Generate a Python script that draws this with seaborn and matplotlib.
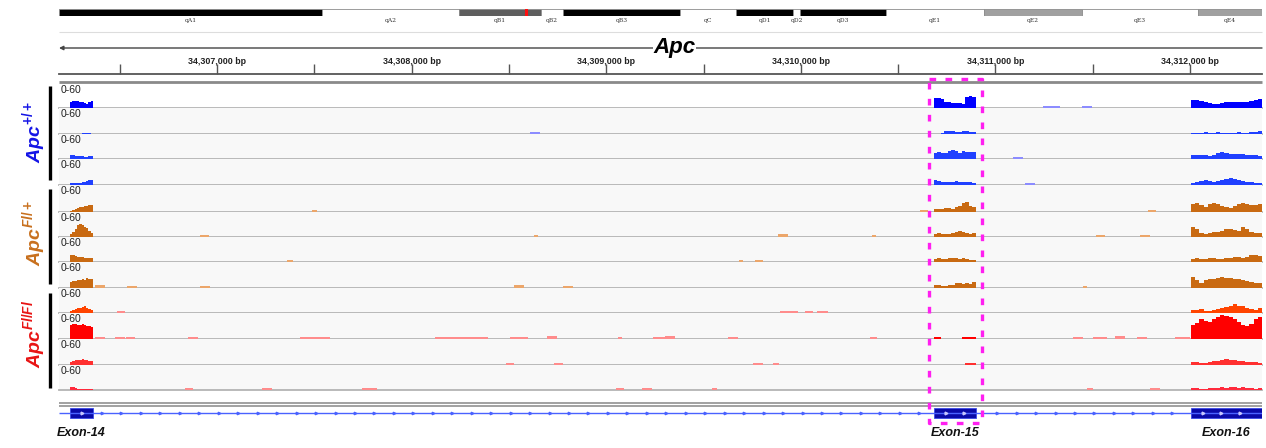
import numpy as np
import matplotlib.pyplot as plt
import seaborn as sns

sns.set_theme(style='white')
plt.rcParams['font.family'] = ['Liberation Sans', 'DejaVu Sans']
plt.rcParams['mathtext.fontset'] = 'custom'
plt.rcParams['mathtext.it'] = 'Liberation Sans:italic:bold'
plt.rcParams['mathtext.rm'] = 'Liberation Sans:bold'
plt.rcParams['mathtext.bf'] = 'Liberation Sans:bold'

# view window (chr18, bp)
XMIN, XMAX = 34306188, 34312370
major_ticks = [34307000, 34308000, 34309000, 34310000, 34311000, 34312000]
minor_ticks = [34306500, 34307500, 34308500, 34309500, 34310500, 34311500]
gene_label_pos = 34309350

# cytoband ideogram (fraction of the displayed chromosome)
band_names = ['qA1', 'qA2', 'qB1', 'qB2', 'qB3', 'qC', 'qD1', 'qD2', 'qD3',
              'qE1', 'qE2', 'qE3', 'qE4']
band_edges = [0, .2186, .3325, .4007, .4190, .5162, .5628, .6102, .6160,
              .6874, .7689, .8504, .9468, 1.0]
band_stain = ['#000000', '#ffffff', '#5e5e5e', '#ffffff', '#000000', '#ffffff',
              '#000000', '#ffffff', '#000000', '#ffffff', '#a0a0a0', '#ffffff',
              '#a0a0a0']
band_marker = 0.388

# exons
exon_names = ['Exon-14', 'Exon-15', 'Exon-16']
exon_start = [34306245, 34310684, 34312005]
exon_end = [34306363, 34310900, 34312370]

# coverage over the exons, one row per track (range 0-60)
exon14_cov = [
    [16, 18, 18, 18, 16, 14, 12, 9, 14, 18],
    [0, 0, 0, 0, 0, 3, 3, 3, 3, 0],
    [9, 9, 7, 7, 7, 7, 5, 5, 7, 7],
    [5, 5, 5, 5, 5, 7, 7, 9, 12, 12],
    [2, 5, 7, 9, 12, 12, 14, 14, 16, 16],
    [7, 12, 18, 28, 32, 28, 23, 21, 14, 9],
    [18, 16, 14, 12, 12, 12, 9, 9, 9, 9],
    [14, 16, 16, 18, 18, 21, 18, 23, 21, 21],
    [5, 7, 9, 12, 12, 14, 18, 12, 9, 7],
    [32, 35, 35, 32, 32, 35, 32, 30, 30, 28],
    [7, 9, 12, 12, 12, 14, 12, 12, 9, 9],
    [7, 7, 5, 3, 3, 3, 3, 3, 3, 3],
]
exon15_cov = [
    [25, 25, 23, 14, 14, 12, 12, 12, 9, 28, 30, 28],
    [0, 0, 3, 7, 7, 7, 5, 5, 7, 7, 5, 5],
    [14, 16, 14, 14, 18, 21, 18, 14, 18, 16, 16, 16],
    [12, 9, 7, 7, 7, 7, 9, 7, 7, 7, 7, 5],
    [7, 7, 7, 9, 9, 7, 12, 14, 21, 23, 14, 12],
    [7, 9, 7, 7, 7, 9, 12, 14, 12, 9, 7, 9],
    [7, 9, 7, 7, 9, 9, 9, 7, 9, 7, 5, 5],
    [7, 7, 5, 5, 7, 7, 12, 12, 9, 12, 9, 14],
    [0, 0, 0, 0, 0, 0, 0, 0, 0, 0, 0, 0],
    [4, 4, 0, 0, 0, 0, 0, 0, 4, 4, 4, 4],
    [0, 0, 0, 0, 0, 0, 0, 0, 0, 4, 4, 4],
    [0, 0, 0, 0, 0, 0, 0, 0, 0, 0, 0, 0],
]
exon16_cov = [
    [21, 21, 18, 16, 12, 9, 9, 12, 14, 16, 14, 14, 16, 16, 18, 21, 23],
    [3, 3, 3, 4, 3, 3, 4, 3, 3, 3, 3, 4, 3, 3, 4, 5, 7],
    [9, 9, 9, 9, 7, 9, 14, 16, 14, 12, 12, 12, 12, 9, 9, 9, 7],
    [5, 7, 9, 12, 9, 7, 9, 12, 14, 16, 14, 12, 9, 7, 7, 5, 5],
    [18, 21, 16, 12, 18, 21, 18, 14, 12, 9, 14, 18, 21, 18, 16, 16, 18],
    [23, 18, 9, 7, 9, 12, 12, 14, 18, 18, 16, 14, 25, 18, 12, 9, 9],
    [7, 9, 7, 7, 9, 9, 7, 7, 9, 9, 12, 12, 9, 12, 16, 18, 14],
    [25, 18, 12, 18, 21, 21, 23, 25, 23, 23, 21, 21, 18, 16, 14, 12, 12],
    [7, 7, 9, 5, 5, 7, 9, 12, 14, 16, 21, 18, 16, 12, 9, 7, 12],
    [32, 37, 46, 41, 39, 46, 51, 55, 53, 51, 46, 39, 32, 30, 35, 46, 51],
    [7, 7, 5, 5, 7, 9, 9, 12, 14, 12, 12, 9, 9, 7, 7, 7, 5],
    [5, 5, 3, 3, 5, 5, 5, 7, 5, 7, 7, 5, 7, 5, 5, 3, 5],
]

# sparse intronic reads: (start, end, depth)
intron_reads = [
    [(34311245, 34311332, 5), (34311445, 34311497, 5)],
    [(34308608, 34308660, 5)],
    [(34311091, 34311142, 5)],
    [(34311152, 34311204, 5)],
    [(34307488, 34307515, 5), (34310613, 34310654, 5), (34311785, 34311826, 5)],
    [(34306913, 34306959, 5), (34308630, 34308650, 5), (34309883, 34309936, 6),
     (34310367, 34310387, 5), (34311517, 34311563, 5), (34311743, 34311795, 5)],
    [(34307360, 34307391, 5), (34309683, 34309703, 5), (34309765, 34309806, 5)],
    [(34306373, 34306424, 6), (34306537, 34306589, 5), (34306913, 34306964, 5),
     (34308526, 34308578, 7), (34308778, 34308829, 5), (34311450, 34311470, 5)],
    [(34306486, 34306527, 5), (34309893, 34309986, 5), (34310022, 34310063, 5),
     (34310083, 34310140, 5)],
    [(34306373, 34306424, 5), (34306476, 34306527, 5), (34306532, 34306579, 5),
     (34306851, 34306902, 5), (34307427, 34307581, 5), (34308120, 34308393, 5),
     (34308506, 34308598, 5), (34308696, 34308747, 8), (34309060, 34309081, 5),
     (34309241, 34309300, 5), (34309304, 34309354, 7), (34309626, 34309677, 5),
     (34310356, 34310392, 5), (34311400, 34311452, 5), (34311504, 34311576, 5),
     (34311615, 34311666, 8), (34311728, 34311779, 5), (34311923, 34312000, 5)],
    [(34308485, 34308526, 5), (34308732, 34308778, 5), (34309754, 34309806, 5),
     (34309857, 34309888, 5)],
    [(34306836, 34306877, 5), (34307231, 34307283, 5), (34307745, 34307822, 5),
     (34309050, 34309091, 5), (34309184, 34309235, 5), (34309544, 34309570, 5),
     (34311471, 34311502, 5), (34311795, 34311846, 5)],
]

track_colors = ['#0000ff', '#2040ff', '#2040ff', '#2040ff',
                '#c96a12', '#c96a12', '#c96a12', '#c96a12',
                '#ff4400', '#ff0000', '#ff3030', '#ff2a3c']
read_colors = ['#8c8cff'] * 4 + ['#eca66a'] * 4 + ['#ff8c8c'] * 4

group_labels = [r'$\mathit{Apc^{+/+}}$', r'$\mathit{Apc^{Fl/+}}$', r'$\mathit{Apc^{Fl/Fl}}$']
group_colors = ['#1414e6', '#c8701e', '#e81414']

# ---- layout (pixels) ----
W, H = 1266, 448
X0, X1 = 59, 1262
track_bottom = [108, 134, 159, 185, 212, 237, 262, 288, 313, 339, 365, 390]
track_top = [84] + track_bottom[:-1]

fig = plt.figure(figsize=(W / 100, H / 100), dpi=100)
fig.patch.set_facecolor('white')


def px_axes(x0, y0, x1, y1):
    return fig.add_axes([x0 / W, 1 - y1 / H, (x1 - x0) / W, (y1 - y0) / H])


frame = fig.add_axes([0, 0, 1, 1])
frame.set_xlim(0, W)
frame.set_ylim(H, 0)
frame.axis('off')
frame.hlines(32, X0, X1, color='#dddddd', lw=0.8)
frame.hlines(82, X0, X1, color='#8a8a8a', lw=2.0)
frame.hlines([403.5, 406.5], X0, X1, color='#9a9a9a', lw=1.3)
frame.vlines([50, 50, 50], [86, 189, 293], [180, 284, 388], color='black', lw=2.4)
for lab, col, yc in zip(group_labels, group_colors, [132, 233, 334]):
    frame.text(34, yc, lab, rotation=90, ha='center', va='center',
               fontsize=14, color=col)

# ideogram
ax = px_axes(X0, 9, X1, 16)
lefts = np.array(band_edges[:-1])
widths = np.diff(band_edges)
ax.barh(0.5, widths, left=lefts, height=1, color=band_stain,
        edgecolor='#8c8c8c', linewidth=0.6)
ax.axvline(band_marker, color='#ff1010', lw=2.2)
for name, l, w in zip(band_names, lefts, widths):
    ax.text(l + w / 2, -0.35, name, ha='center', va='top', fontsize=4.3,
            family='DejaVu Serif', color='#333333', clip_on=False)
ax.set_xlim(0, 1)
ax.set_ylim(0, 1)
ax.axis('off')

# gene arrow + name
ax = px_axes(X0, 38, X1, 58)
ax.annotate('', xy=(XMIN, 0.5), xytext=(XMAX, 0.5),
            arrowprops=dict(arrowstyle='-|>', color='#444444', lw=1.0,
                            mutation_scale=6, shrinkA=0, shrinkB=0))
ax.text(gene_label_pos, 0.5, 'Apc', ha='center', va='center', fontsize=16,
        style='italic', weight='bold', color='black',
        bbox=dict(facecolor='white', edgecolor='none', pad=0.5))
ax.set_xlim(XMIN, XMAX)
ax.set_ylim(0, 1)
ax.axis('off')

# ruler
ax = px_axes(X0, 52, X1, 74)
ax.set_xlim(XMIN, XMAX)
ax.set_ylim(0, 1)
ax.set_xticks(major_ticks)
ax.set_xticks(minor_ticks, minor=True)
ax.tick_params(which='both', bottom=True, direction='in', length=7, width=1,
               color='#555555', labelbottom=False)
ax.set_yticks([])
for s in ['top', 'left', 'right']:
    ax.spines[s].set_visible(False)
ax.spines['bottom'].set_color('#555555')
ax.spines['bottom'].set_linewidth(1.3)
ax.patch.set_alpha(0)
for t in major_ticks:
    ax.text(t, 0.55, f'{t:,} bp', ha='center', va='center', fontsize=6.4,
            weight='bold', color='#222222')

# coverage tracks
for i in range(12):
    ax = px_axes(X0, track_top[i], X1, track_bottom[i])
    edges, centers, vals = [], [], []
    for cov, s, e in zip([exon14_cov[i], exon15_cov[i], exon16_cov[i]],
                         exon_start, exon_end):
        ed = np.linspace(s, e, len(cov) + 1)
        edges.append(ed)
        centers.append((ed[:-1] + ed[1:]) / 2)
        vals.append(cov)
    edges = np.concatenate(edges).tolist()
    sns.histplot(x=np.concatenate(centers), weights=np.concatenate(vals),
                 bins=edges, element='step', fill=True, color=track_colors[i],
                 alpha=1, linewidth=0, ax=ax)
    reads = sorted(intron_reads[i])
    r_edges = [float(v) for s, e, _ in reads for v in (s, e)]
    sns.histplot(x=[(s + e) / 2 for s, e, _ in reads],
                 weights=[d for _, _, d in reads], bins=r_edges,
                 element='bars', fill=True, color=read_colors[i], alpha=1,
                 linewidth=0, ax=ax)
    ax.set_xlim(XMIN, XMAX)
    ax.set_ylim(0, 60)
    ax.set_xlabel('')
    ax.set_ylabel('')
    ax.set_xticks([])
    ax.set_yticks([])
    ax.set_facecolor('#ffffff' if i == 0 else '#f8f8f8')
    for s in ['top', 'left', 'right']:
        ax.spines[s].set_visible(False)
    ax.spines['bottom'].set_color('#b4b4b4')
    ax.spines['bottom'].set_linewidth(1.3)
    ax.spines['bottom'].set_zorder(0.5)
    ax.text(0.001, 0.97, '0-60', transform=ax.transAxes, ha='left', va='top',
            fontsize=7.5, color='#222222')

# gene model track
ax = px_axes(X0, 398, X1, 446)
ax.set_xlim(XMIN, XMAX)
ax.set_ylim(446, 398)
ax.axis('off')
ax.hlines(413, XMIN, XMAX, color='#4a62ff', lw=1.0)
chev = np.arange(34306409, 34312000, 100)
inside = np.zeros(len(chev), bool)
for s, e in zip(exon_start, exon_end):
    inside |= (chev > s - 30) & (chev < e + 30)
ax.plot(chev[~inside], np.full((~inside).sum(), 413), ls='none', marker='>',
        ms=1.8, color='#4a62ff')
ax.barh(413, np.subtract(exon_end, exon_start), left=exon_start, height=10,
        color='#0a0aa8', edgecolor='#3a4ae8', linewidth=0.6)
for name, s, e in zip(exon_names, exon_start, exon_end):
    c = np.arange(s + 60, e - 30, 95)
    ax.plot(c, np.full(len(c), 413), ls='none', marker='>', ms=2.0,
            color='#c8c8ff')
    ax.text((s + e) / 2, 433, name, ha='center', va='center', fontsize=9,
            style='italic', weight='bold', color='#111111')

# highlight box around exon 15
ax = px_axes(X0, 70, X1, 440)
ax.set_xlim(XMIN, XMAX)
ax.set_ylim(440, 70)
ax.axis('off')
ax.patch.set_alpha(0)
bx0, bx1 = 34310659, 34310931
ax.plot([bx0, bx1, bx1, bx0, bx0], [79, 79, 423, 423, 79], color='#ff1ff0',
        lw=2.4, ls=(0, (2.0, 2.8)), solid_capstyle='butt')

fig.savefig('out.png', dpi=100)
